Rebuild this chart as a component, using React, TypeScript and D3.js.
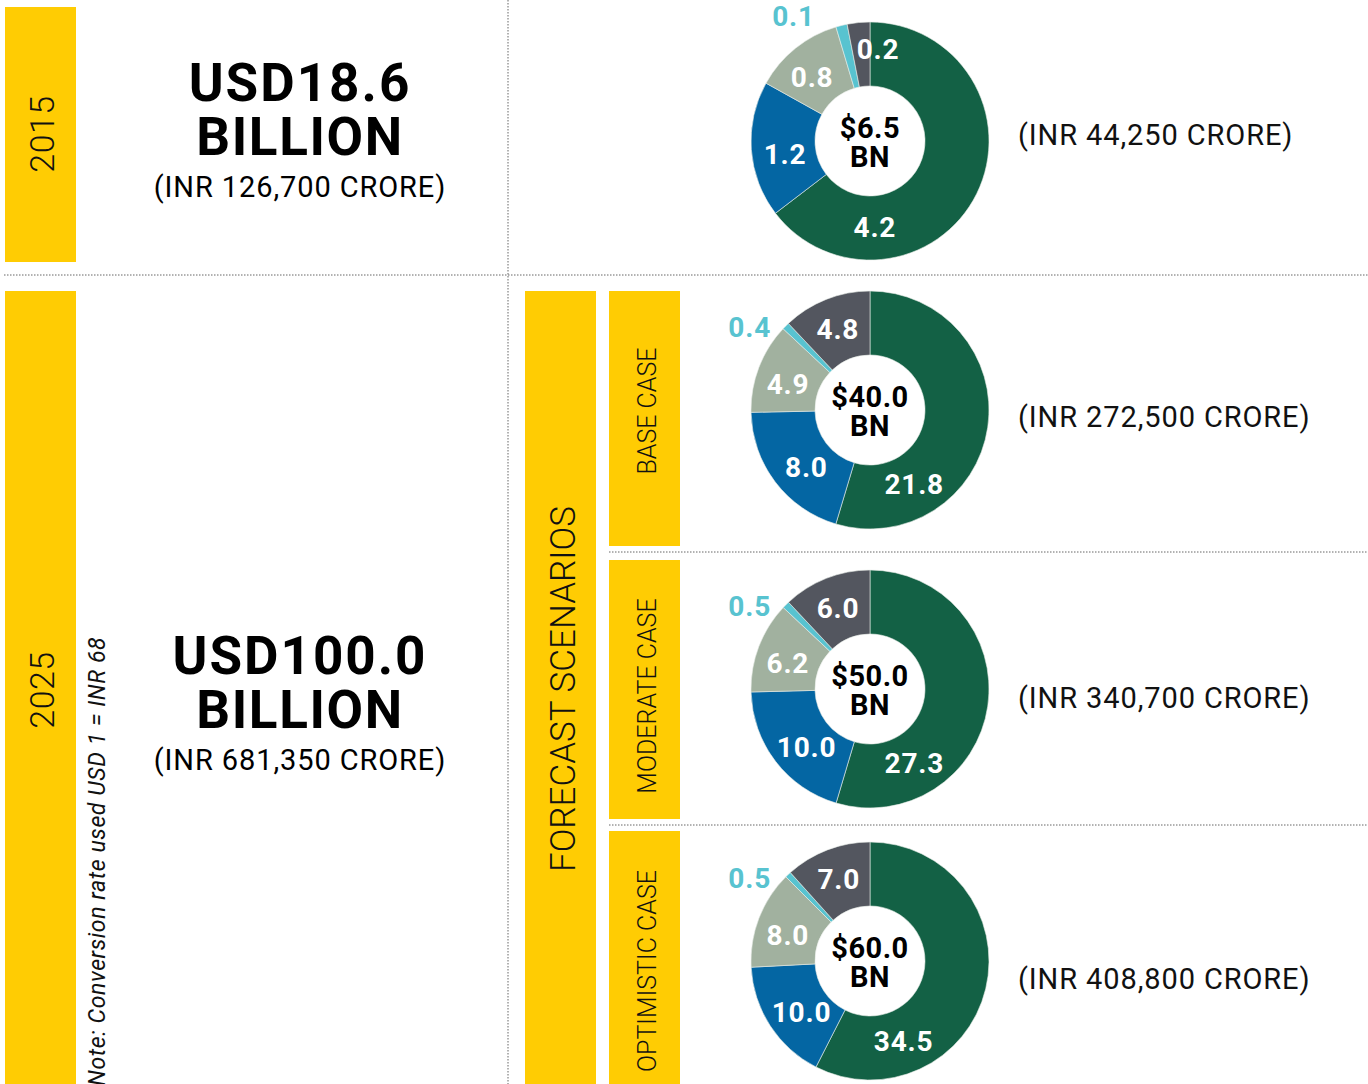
import React from "react";
import * as d3 from "d3";

// ---------- data ----------
const scenarioNames = ["2015", "BASE CASE", "MODERATE CASE", "OPTIMISTIC CASE"];
const totalLabels = ["$6.5", "$40.0", "$50.0", "$60.0"];
const greenValues = [4.2, 21.8, 27.3, 34.5];
const blueValues = [1.2, 8.0, 10.0, 10.0];
const sageValues = [0.8, 4.9, 6.2, 8.0];
const cyanValues = [0.1, 0.4, 0.5, 0.5];
const greyValues = [0.2, 4.8, 6.0, 7.0];
const inrLabels = [
  "(INR 44,250 CRORE)",
  "(INR 272,500 CRORE)",
  "(INR 340,700 CRORE)",
  "(INR 408,800 CRORE)",
];
const yearLabels = ["2015", "2025"];
const marketUsd = ["USD18.6", "USD100.0"];
const marketInr = ["(INR 126,700 CRORE)", "(INR 681,350 CRORE)"];
const noteText = "Note: Conversion rate used USD 1 = INR 68";
const forecastTitle = "FORECAST SCENARIOS";

// ---------- style / layout ----------
const sliceColors = ["#136145", "#0466a3", "#a1b19f", "#58c3d0", "#53565f"];
const YELLOW = "#ffcc03";
const FONT = "Roboto, 'Open Sans', sans-serif";
const donutCenters = [
  { x: 870, y: 141 },
  { x: 870, y: 410 },
  { x: 870, y: 689 },
  { x: 870, y: 961 },
];
const inrY = [135, 417, 698, 979];
const scenarioBars = [
  { y0: 291, y1: 546, textY: 411 },
  { y0: 560, y1: 819, textY: 696 },
  { y0: 831, y1: 1084, textY: 971 },
];

const INNER = 55;
const OUTER = 119;
const DEG = Math.PI / 180;

function Donut({ idx }: { idx: number }) {
  const values = [
    greenValues[idx],
    blueValues[idx],
    sageValues[idx],
    cyanValues[idx],
    greyValues[idx],
  ];
  const pie = d3
    .pie<number>()
    .sort(null)
    .value((d) => d)
    .startAngle(0)
    .endAngle(2 * Math.PI);
  const arcs = pie(values);
  const arc = d3.arc<d3.PieArcDatum<number>>().innerRadius(INNER).outerRadius(OUTER);
  const c = donutCenters[idx];

  const labelPos = (a: d3.PieArcDatum<number>, i: number) => {
    const span = a.endAngle - a.startAngle;
    let ang = (a.startAngle + a.endAngle) / 2;
    let r = 87;
    if (i === 0) ang = a.startAngle + 0.76 * span;
    if (i === 1) {
      ang = a.startAngle + 0.43 * span;
      r = 86;
    }
    if (i === 2) {
      ang = a.startAngle + 0.42 * span;
      r = 86;
    }
    if (i === 3) {
      ang = Math.max(304.5 * DEG, a.startAngle - 15 * DEG);
      r = 146;
    }
    if (i === 4 && span < 25 * DEG) {
      ang = a.endAngle + 5 * DEG;
      r = 92;
    }
    return d3
      .arc<any>()
      .innerRadius(r)
      .outerRadius(r)
      .startAngle(ang)
      .endAngle(ang)
      .centroid({} as any);
  };

  return (
    <g transform={`translate(${c.x},${c.y})`}>
      {arcs.map((a, i) => (
        <path
          key={i}
          d={arc(a) || ""}
          fill={sliceColors[i]}
          stroke="#e8ece8"
          strokeWidth={0.6}
        />
      ))}
      {arcs.map((a, i) => {
        const [x, y] = labelPos(a, i);
        return (
          <text
            key={"l" + i}
            x={x}
            y={y}
            textAnchor="middle"
            dominantBaseline="central"
            fontFamily={FONT}
            fontWeight={700}
            fontSize={28}
            letterSpacing={0.8}
            fill={i === 3 ? sliceColors[3] : "#ffffff"}
          >
            {values[i].toFixed(1)}
          </text>
        );
      })}
      <text
        x={0}
        y={-3}
        textAnchor="middle"
        fontFamily={FONT}
        fontWeight={700}
        fontSize={29}
        letterSpacing={0.5}
        fill="#000"
      >
        {totalLabels[idx]}
      </text>
      <text
        x={0}
        y={26}
        textAnchor="middle"
        fontFamily={FONT}
        fontWeight={700}
        fontSize={29}
        letterSpacing={0.5}
        fill="#000"
      >
        BN
      </text>
    </g>
  );
}

function VText({
  x,
  y,
  size,
  children,
  weight = 300,
  anchor = "middle",
  italic = false,
  spacing = 0,
}: any) {
  return (
    <text
      transform={`translate(${x},${y}) rotate(-90)`}
      textAnchor={anchor}
      dominantBaseline="central"
      fontFamily={FONT}
      fontWeight={weight}
      fontStyle={italic ? "italic" : "normal"}
      fontSize={size}
      letterSpacing={spacing}
      fill="#111"
    >
      {children}
    </text>
  );
}

export default function App() {
  const W = 1368;
  const H = 1084;
  const dot = { stroke: "#666", strokeWidth: 1, strokeDasharray: "1.5,1.5" };
  return (
    <svg
      width={W}
      height={H}
      style={{ position: "absolute", left: 0, top: 0, background: "#fff" }}
    >
      {/* yellow year bars */}
      <rect x={5} y={7} width={71} height={255} fill={YELLOW} />
      <rect x={5} y={291} width={71} height={H - 291} fill={YELLOW} />
      <VText x={42} y={134} size={34} spacing={0.5}>
        {yearLabels[0]}
      </VText>
      <VText x={42} y={690} size={34} spacing={0.5}>
        {yearLabels[1]}
      </VText>

      {/* note */}
      <VText x={97} y={1086} size={23} anchor="start" italic weight={400} spacing={0.6}>
        {noteText}
      </VText>

      {/* forecast bar */}
      <rect x={525} y={291} width={71} height={H - 291} fill={YELLOW} />
      <VText x={563} y={689} size={35}>
        {forecastTitle}
      </VText>

      {scenarioBars.map((b, i) => (
        <g key={i}>
          <rect x={609} y={b.y0} width={71} height={b.y1 - b.y0} fill={YELLOW} />
          <VText x={647} y={b.textY} size={25}>
            {scenarioNames[i + 1]}
          </VText>
        </g>
      ))}

      {/* dotted separators */}
      <line x1={508} y1={0} x2={508} y2={H} {...dot} />
      <line x1={4} y1={275} x2={W} y2={275} {...dot} />
      <line x1={609} y1={552} x2={W} y2={552} {...dot} />
      <line x1={609} y1={825} x2={W} y2={825} {...dot} />

      {/* market size text */}
      {[0, 1].map((i) => {
        const base = i === 0 ? 101 : 674;
        return (
          <g key={i} fontFamily={FONT} textAnchor="middle" fill="#000">
            <text x={300} y={base} fontSize={53} fontWeight={700} letterSpacing={2}>
              {marketUsd[i]}
            </text>
            <text x={300} y={base + 54} fontSize={53} fontWeight={700} letterSpacing={1.6}>
              BILLION
            </text>
            <text x={300} y={base + 96} fontSize={29} fontWeight={400} letterSpacing={0.9}>
              {marketInr[i]}
            </text>
          </g>
        );
      })}

      {/* donuts */}
      {[0, 1, 2, 3].map((i) => (
        <Donut key={i} idx={i} />
      ))}

      {inrLabels.map((t, i) => (
        <text
          key={i}
          x={1018}
          y={inrY[i]}
          dominantBaseline="central"
          fontFamily={FONT}
          fontSize={29}
          fontWeight={400}
          letterSpacing={0.9}
          fill="#111"
        >
          {t}
        </text>
      ))}
    </svg>
  );
}
